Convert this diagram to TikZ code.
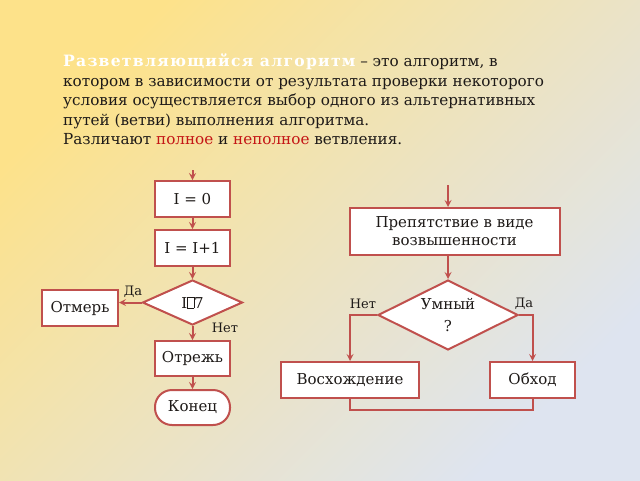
\documentclass[tikz,border=0pt]{standalone}
\usepackage{fontspec}
\setmainfont{DejaVu Serif}
\usepackage{tikz}
\usetikzlibrary{arrows,shapes.geometric}
\definecolor{brd}{RGB}{192,80,77}
\definecolor{ink}{RGB}{30,26,24}
\definecolor{hl}{RGB}{196,22,22}
\definecolor{bgA}{RGB}{253,226,138}
\definecolor{bgM}{RGB}{241,228,184}
\definecolor{bgB}{RGB}{222,228,240}
\newcommand{\nobox}{{\fboxsep=0pt\fboxrule=0.5pt\fbox{\rule{0pt}{11pt}\hspace{6pt}}}}
\tikzstyle{blk} = [draw=brd, line width=2pt, fill=white, text=ink, inner sep=2pt, font=\fontsize{15}{18}\selectfont]
\tikzstyle{dec} = [blk, diamond, inner sep=0pt]
\tikzstyle{ln} = [draw=brd, line width=2pt]
\tikzstyle{ar} = [ln, -stealth]
\tikzstyle{lbl} = [text=ink, font=\fontsize{13}{14}\selectfont, inner sep=0pt]

\begin{document}
\begin{tikzpicture}[yscale=-1]
			\shade[top color=bgA, middle color=bgM, bottom color=bgB, shading angle=45] (0pt,0pt) rectangle (640pt,480pt);
			\useasboundingbox (0pt,0pt) rectangle (640pt,480pt);
			% definition
			\node[anchor=north west, align=left, text=ink, inner sep=0pt, font=\fontsize{15.2}{19.4}\selectfont] (defn) at (63pt,54pt)
				{{\color{white}\fontsize{15.6}{19.4}\selectfont\bfseries\addfontfeature{LetterSpace=8}Разветвляющийся алгоритм} – это алгоритм, в\\
				котором в зависимости от результата проверки некоторого\\
				условия осуществляется выбор одного из альтернативных\\
				путей (ветви) выполнения алгоритма.\\
				Различают {\color{hl}полное} и {\color{hl}неполное} ветвления.};
			% left flowchart
			\coordinate (inL) at (192.5pt,170pt);
			\node[blk, minimum width=75pt, minimum height=36pt] (init) at (192.5pt,199pt) {I = 0};
			\node[blk, minimum width=75pt, minimum height=36pt] (incr) at (192.5pt,248pt) {I = I+1};
			\node[dec, minimum width=100pt, minimum height=45pt] (cond) at (192.5pt,302.5pt) {I\nobox7};
			\node[blk, minimum width=76pt, minimum height=36pt] (measure) at (80pt,308pt) {Отмерь};
			\node[blk, minimum width=75pt, minimum height=35pt] (cut) at (192.5pt,358.5pt) {Отрежь};
			\node[blk, minimum width=75pt, minimum height=35pt, rounded corners=17pt] (finish) at (192.5pt,407.5pt) {Конец};
			\draw[ar] (inL) -- (init);
			\draw[ar] (init) -- (incr);
			\draw[ar] (incr) -- (cond);
			\draw[ar] (cond.west) -- (cond.west -| measure.east);
			\draw[ar] (cond.south) -- (cut.north);
			\draw[ar] (cut) -- (finish);
			\node[lbl] (yesL) at (133pt,292pt) {Да};
			\node[lbl] (noL) at (225pt,328pt) {Нет};
			% right flowchart
			\coordinate (inR) at (448pt,185pt);
			\node[blk, minimum width=210pt, minimum height=47pt, align=center] (hill) at (454.5pt,231.5pt) {Препятствие в виде\\возвышенности};
			\node[dec, inner sep=-9pt, minimum width=140pt, minimum height=70pt, align=center, font=\fontsize{15}{22}\selectfont] (smart) at (448pt,315pt) {Умный\\?};
			\node[blk, minimum width=138pt, minimum height=36pt] (climb) at (350pt,380pt) {Восхождение};
			\node[blk, minimum width=85pt, minimum height=36pt] (bypass) at (532.5pt,380pt) {Обход};
			\coordinate (merge) at (448pt,410pt);
			\draw[ar] (inR) -- (inR |- hill.north);
			\draw[ar] (hill.south -| smart) -- (smart.north);
			\draw[ar] (smart.west) -| (climb.north);
			\draw[ar] (smart.east) -| (bypass.north);
			\draw[ln] (climb.south) |- (merge) -| (bypass.south);
			\node[lbl] (noR) at (363pt,304pt) {Нет};
			\node[lbl] (yesR) at (524pt,304pt) {Да};
		\end{tikzpicture}
\end{document}
